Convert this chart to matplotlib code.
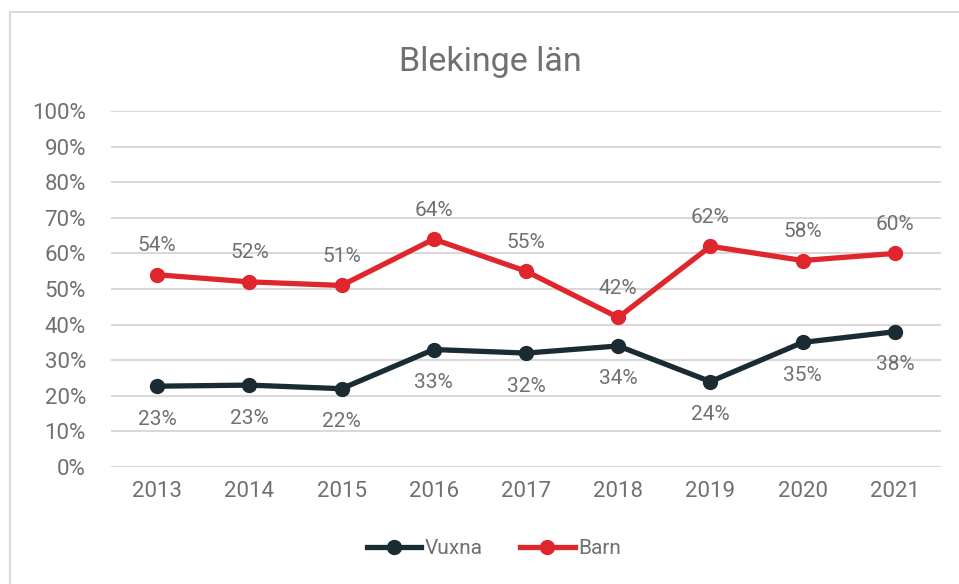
import matplotlib.pyplot as plt
from matplotlib.patches import Rectangle

years = ["2013", "2014", "2015", "2016", "2017", "2018", "2019", "2020", "2021"]
vuxna = [22.7, 23.0, 22.0, 33.0, 32.0, 34.0, 24.0, 35.0, 38.0]
barn = [54.0, 52.0, 51.0, 64.0, 55.0, 42.0, 62.0, 58.0, 60.0]
vuxna_labels = ["23%", "23%", "22%", "33%", "32%", "34%", "24%", "35%", "38%"]
barn_labels = ["54%", "52%", "51%", "64%", "55%", "42%", "62%", "58%", "60%"]

plt.rcParams['font.family'] = ['Roboto', 'DejaVu Sans']

grey = "#707070"
red = "#E0262D"
dark = "#1A2B33"

fig = plt.figure(figsize=(9.59, 5.84), dpi=100)
# light frame around the chart area
fig.patches.append(Rectangle((10 / 959, -0.05), 2, 1 - 12 / 584 + 0.05,
                             transform=fig.transFigure, fill=False,
                             edgecolor="#D9D9D9", linewidth=1.5))
ax = fig.add_axes([111 / 959, 1 - 467 / 584, 830 / 959, 356 / 584])

x = list(range(len(years)))
ax.plot(x, vuxna, color=dark, lw=3.8, marker="o", ms=10, label="Vuxna", zorder=3)
ax.plot(x, barn, color=red, lw=3.8, marker="o", ms=10, label="Barn", zorder=3)

for i in x:
    ax.annotate(barn_labels[i], (i, barn[i]), xytext=(0, 29), textcoords="offset pixels",
                ha="center", va="center", fontsize=15, color=grey)
    ax.annotate(vuxna_labels[i], (i, vuxna[i]), xytext=(0, -33), textcoords="offset pixels",
                ha="center", va="center", fontsize=15, color=grey)

ax.set_xlim(-0.5, len(years) - 0.5)
ax.set_ylim(0, 100)
ax.set_yticks(range(0, 101, 10))
ax.set_yticklabels([f"{v}%" for v in range(0, 101, 10)])
ax.set_xticks(x)
ax.set_xticklabels(years)
ax.tick_params(length=0, labelsize=16, labelcolor=grey)
ax.tick_params(axis="x", pad=10)
ax.tick_params(axis="y", pad=18)
ax.grid(axis="y", color="#D9D9D9", lw=1.5)
ax.set_axisbelow(True)
for s in ax.spines.values():
    s.set_visible(False)

fig.text(490 / 959, 1 - 62 / 584, "Blekinge län", ha="center", va="center",
         fontsize=24.5, color=grey)
fig.legend(loc="center", bbox_to_anchor=(494 / 959, 1 - 549 / 584), ncol=2,
           frameon=False, fontsize=15, labelcolor=grey, handlelength=2.6,
           handletextpad=0.2, columnspacing=1.8)

fig.savefig("out.png", dpi=100)
